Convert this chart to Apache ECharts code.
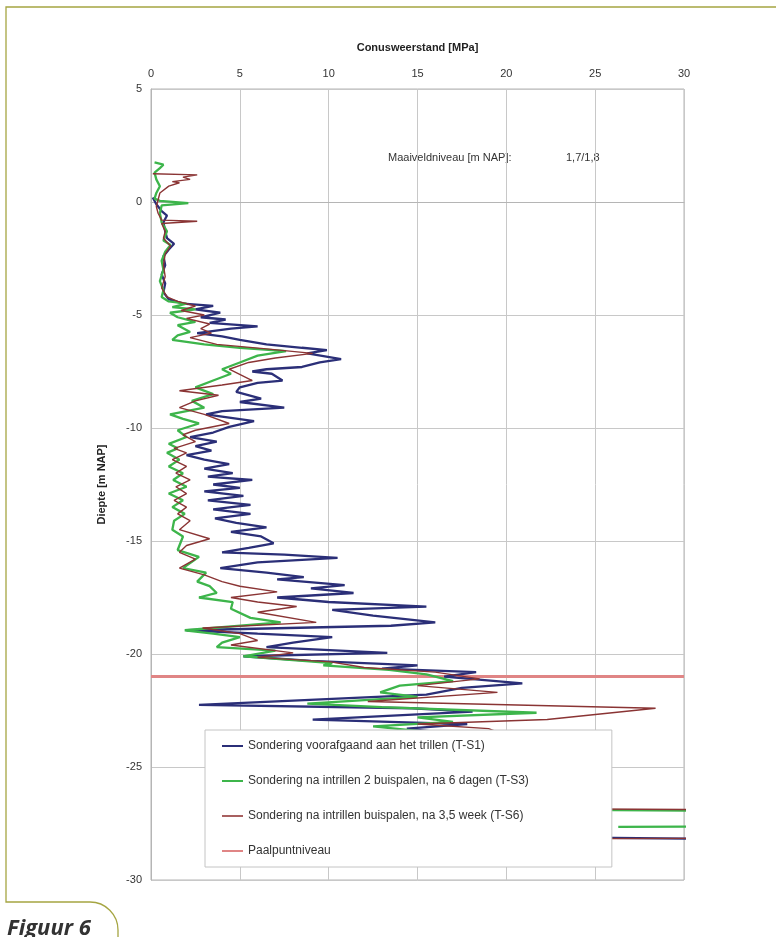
<!DOCTYPE html>
<html>
<head>
<meta charset="utf-8">
<script src="https://cdn.jsdelivr.net/npm/echarts@6/dist/echarts.min.js"></script>
<style>
html,body{margin:0;padding:0;background:#fff;}
#c{width:776px;height:937px;}
</style>
</head>
<body>
<div id="c"></div>
<script>
// ---- data: [conusweerstand MPa, diepte m NAP] ----
const xTicks = [0, 5, 10, 15, 20, 25, 30];
const yTicks = [5, 0, -5, -10, -15, -20, -25, -30];
const seriesNames = [
  'Sondering voorafgaand aan het trillen (T-S1)',
  'Sondering na intrillen 2 buispalen, na 6 dagen (T-S3)',
  'Sondering na intrillen buispalen, na 3,5 week (T-S6)',
  'Paalpuntniveau'
];
const ts1 = [
  [0.1,0.2],[0.3,-0.1],[0.6,-0.4],[0.9,-0.6],[0.7,-0.9],[0.8,-1.3],[0.9,-1.6],[1.3,-1.85],[1.0,-2.1],[0.7,-2.4],
  [0.8,-2.8],[0.6,-3.2],[0.8,-3.6],[0.7,-4.0],[1.0,-4.3],[1.8,-4.5],[3.5,-4.6],[2.5,-4.75],[3.9,-4.9],[2.8,-5.1],
  [4.2,-5.2],[3.3,-5.35],[6.0,-5.5],[4.5,-5.6],[2.6,-5.8],[4.0,-5.95],[5.0,-6.1],[6.5,-6.3],[8.5,-6.45],[9.9,-6.55],
  [8.8,-6.7],[10.7,-6.95],[9.5,-7.1],[8.5,-7.3],[6.5,-7.4],[5.7,-7.5],[6.8,-7.6],[7.4,-7.9],[6.0,-8.0],[5.0,-8.2],
  [4.8,-8.4],[6.2,-8.7],[5.0,-8.85],[7.5,-9.1],[4.0,-9.25],[3.1,-9.4],[4.5,-9.55],[5.8,-9.7],[4.4,-9.95],[3.5,-10.2],
  [2.2,-10.4],[3.7,-10.6],[2.5,-10.8],[3.4,-11.0],[2.0,-11.2],[3.0,-11.4],[4.4,-11.6],[3.0,-11.8],[4.6,-12.0],[3.2,-12.15],
  [5.7,-12.3],[3.5,-12.5],[5.0,-12.65],[3.0,-12.8],[5.2,-13.0],[3.2,-13.2],[5.6,-13.4],[3.5,-13.6],[5.6,-13.8],[3.6,-14.0],
  [4.8,-14.2],[6.5,-14.4],[4.5,-14.6],[6.2,-14.8],[6.9,-15.1],[5.5,-15.3],[4.0,-15.5],[7.5,-15.6],[10.5,-15.75],[6.0,-15.95],
  [3.9,-16.2],[6.5,-16.4],[8.6,-16.6],[7.1,-16.7],[10.9,-16.95],[9.0,-17.1],[11.4,-17.3],[7.1,-17.5],[10.0,-17.7],[15.5,-17.9],
  [10.2,-18.05],[12.5,-18.3],[16.0,-18.6],[13.5,-18.75],[2.0,-18.95],[6.0,-19.1],[10.2,-19.25],[8.0,-19.5],[6.5,-19.7],[13.3,-19.95],
  [5.2,-20.1],[9.0,-20.3],[15.0,-20.5],[13.0,-20.65],[18.3,-20.8],[16.5,-21.0],[20.9,-21.3],[17.5,-21.5],[15.5,-21.8],[2.7,-22.25],
  [14.7,-22.4],[18.1,-22.55],[9.1,-22.9],[17.8,-23.1],[14.4,-23.3],[20,-23.8],[16,-24.5],[22,-25.2],[18,-26],[24,-26.5],
  [20,-27.5],[22,-28.1],[45,-28.3],[45,-28.4]
];
const ts3 = [
  [0.2,1.75],[0.7,1.65],[0.5,1.5],[0.2,1.3],[0.3,1.0],[0.5,0.7],[0.3,0.4],[0.2,0.15],[0.5,0.05],[2.1,-0.05],
  [0.6,-0.15],[0.5,-0.5],[0.6,-0.9],[0.9,-1.3],[0.7,-1.7],[1.1,-1.9],[0.8,-2.2],[0.6,-2.6],[0.7,-3.0],[0.5,-3.5],
  [0.7,-3.9],[0.6,-4.2],[1.0,-4.4],[2.0,-4.5],[1.2,-4.65],[2.5,-4.75],[1.07,-4.9],[1.5,-5.1],[2.5,-5.3],[1.5,-5.45],
  [2.2,-5.75],[1.5,-5.9],[1.2,-6.1],[3.0,-6.3],[5.0,-6.45],[7.6,-6.6],[6.0,-6.8],[5.0,-7.1],[4.0,-7.4],[4.5,-7.6],
  [3.5,-7.9],[2.5,-8.2],[3.5,-8.5],[2.3,-8.8],[3.0,-9.1],[1.07,-9.4],[1.8,-9.6],[2.7,-9.8],[1.5,-10.1],[2.0,-10.4],
  [1.0,-10.7],[1.5,-10.9],[0.9,-11.1],[1.6,-11.4],[1.0,-11.7],[1.8,-12.0],[1.25,-12.3],[2.0,-12.6],[1.0,-12.9],[1.8,-13.2],
  [1.2,-13.5],[1.9,-13.8],[1.3,-14.1],[1.2,-14.5],[1.8,-14.8],[1.5,-15.4],[2.7,-15.7],[1.8,-16.2],[3.1,-16.4],[2.6,-16.8],
  [3.3,-17.0],[3.7,-17.3],[2.7,-17.5],[4.6,-17.7],[4.5,-18.0],[5.6,-18.4],[7.3,-18.6],[1.9,-18.95],[3.5,-19.1],[5.0,-19.25],
  [4.0,-19.5],[3.7,-19.7],[7.0,-19.85],[5.2,-20.1],[10.2,-20.4],[9.7,-20.5],[13.4,-20.7],[15.5,-20.9],[17.0,-21.2],[14.0,-21.4],
  [12.9,-21.7],[15.0,-21.9],[8.8,-22.2],[13.0,-22.35],[21.7,-22.6],[15.0,-22.8],[17.0,-23.0],[12.5,-23.2],[20,-23.8],[18,-24.6],
  [23,-25.3],[20,-26.1],[24,-26.9],[45,-27.0],[45,-27.6],[26.3,-27.65]
];
const ts6 = [
  [0.1,1.25],[2.6,1.2],[1.8,1.1],[2.2,1.0],[1.2,0.9],[1.6,0.85],[1.0,0.7],[0.5,0.4],[0.4,0.1],[0.3,-0.2],
  [0.4,-0.5],[0.6,-0.8],[2.6,-0.85],[0.6,-0.95],[0.8,-1.3],[0.7,-1.6],[1.1,-1.95],[0.8,-2.3],[0.7,-2.8],[0.8,-3.3],
  [0.6,-3.8],[0.9,-4.2],[1.5,-4.4],[2.5,-4.6],[1.7,-4.8],[3.0,-5.0],[2.0,-5.15],[3.3,-5.4],[2.8,-5.6],[3.4,-5.8],
  [2.2,-6.0],[3.7,-6.3],[6.5,-6.5],[9.1,-6.7],[7.0,-6.9],[5.5,-7.1],[4.4,-7.4],[5.7,-7.9],[4.0,-8.1],[1.6,-8.35],
  [3.8,-8.55],[2.5,-8.8],[1.6,-9.1],[3.0,-9.4],[4.4,-9.8],[2.5,-10.1],[1.8,-10.3],[2.5,-10.6],[1.3,-10.9],[2.0,-11.1],
  [1.2,-11.4],[2.0,-11.7],[1.4,-12.0],[2.2,-12.3],[1.4,-12.6],[2.0,-12.9],[1.3,-13.2],[2.0,-13.5],[1.5,-13.8],[2.2,-14.1],
  [1.6,-14.5],[3.3,-14.9],[2.0,-15.2],[1.6,-15.5],[2.5,-15.8],[1.6,-16.2],[3.0,-16.5],[4.0,-16.8],[5.0,-17.0],[7.1,-17.25],
  [4.5,-17.5],[6.0,-17.7],[8.2,-17.9],[6.0,-18.15],[9.3,-18.6],[2.9,-18.85],[5.0,-19.1],[6.0,-19.4],[4.5,-19.6],[8.0,-19.95],
  [6.0,-20.15],[10.1,-20.35],[12.0,-20.6],[16.0,-20.8],[18.5,-21.1],[15.0,-21.4],[19.5,-21.7],[12.2,-22.1],[28.4,-22.4],[22.3,-22.9],
  [15.0,-23.1],[19.0,-23.3],[21,-23.9],[17,-24.7],[23,-25.4],[20,-26.2],[22,-26.85],[50,-26.95],[50,-28.1],[15,-28.2]
];
const paalpunt = [[0,-21],[30,-21]];
const maaiveldLabel = 'Maaiveldniveau [m NAP]:';
const maaiveldValue = '1,7/1,8';

const chart = echarts.init(document.getElementById('c'), null, {renderer:'canvas'});
const font = 'Liberation Sans';
chart.setOption({
  animation: false,
  backgroundColor: '#fff',
  grid: {left:151, top:89, width:533, height:791, show:true, borderColor:'#b5b5b5', borderWidth:1},
  xAxis: {
    type:'value', position:'top', min:0, max:30, interval:5,
    name:'Conusweerstand [MPa]', nameLocation:'middle', nameGap:36,
    nameTextStyle:{fontFamily:font, fontWeight:'bold', fontSize:11, color:'#222'},
    axisLine:{show:true, lineStyle:{color:'#b5b5b5'}},
    axisTick:{show:false},
    axisLabel:{margin:10, fontFamily:font, fontSize:11, color:'#333',
      formatter: v => (xTicks.indexOf(v) >= 0 ? String(v) : '')},
    splitLine:{show:true, lineStyle:{color:'#c8c8c8', width:1}}
  },
  yAxis: {
    type:'value', min:-30, max:5, interval:5,
    name:'Diepte [m NAP]', nameLocation:'middle', nameGap:44, nameRotate:90,
    nameTextStyle:{fontFamily:font, fontWeight:'bold', fontSize:11, color:'#222'},
    axisLine:{show:true, onZero:false, lineStyle:{color:'#b5b5b5'}},
    axisTick:{show:false},
    axisLabel:{margin:9, fontFamily:font, fontSize:11, color:'#333',
      formatter: v => (yTicks.indexOf(v) >= 0 ? String(v) : '')},
    splitLine:{show:true, lineStyle:{color:'#c8c8c8', width:1}}
  },
  legend: {
    orient:'vertical', left:205, top:730, z:20,
    padding:[9, 83, 9, 17], itemGap:21, itemWidth:21, itemHeight:2,
    backgroundColor:'#fff', borderColor:'#c4c4c4', borderWidth:1,
    icon:'rect',
    textStyle:{fontFamily:font, fontSize:12, color:'#333', lineHeight:14},
    data: seriesNames
  },
  graphic: [
    {type:'polyline', silent:true, z:0,
     shape:{points:[[776,7],[6,7],[6,902],[90,902]]},
     style:{fill:null, stroke:'#a5a542', lineWidth:1.3}},
    {type:'arc', silent:true, z:0,
     shape:{cx:90, cy:930, r:28, startAngle:-Math.PI/2, endAngle:0, clockwise:true},
     style:{fill:null, stroke:'#a5a542', lineWidth:1.3}},
    {type:'line', silent:true, z:0,
     shape:{x1:118, y1:930, x2:118, y2:945},
     style:{stroke:'#a5a542', lineWidth:1.3}},
    {type:'text', left:7, top:918, z:10,
     style:{text:'Figuur 6', font:'italic bold 22px "Open Sans"', fill:'#333'}},
    {type:'text', left:388, top:152,
     style:{text:maaiveldLabel, font:'11px "Liberation Sans"', fill:'#333'}},
    {type:'text', left:566, top:152,
     style:{text:maaiveldValue, font:'11px "Liberation Sans"', fill:'#333'}}
  ],
  series: [
    {name:seriesNames[3], type:'line', data:paalpunt, symbol:'none', z:1,
     lineStyle:{color:'#e08585', width:3}, itemStyle:{color:'#e08585'}},
    {name:seriesNames[0], type:'line', data:ts1, symbol:'none', z:2,
     lineStyle:{color:'#2b2f78', width:2.3}, itemStyle:{color:'#2b2f78'}},
    {name:seriesNames[1], type:'line', data:ts3, symbol:'none', z:3,
     lineStyle:{color:'#3db54b', width:2.3}, itemStyle:{color:'#3db54b'}},
    {name:seriesNames[2], type:'line', data:ts6, symbol:'none', z:4,
     lineStyle:{color:'#8a3434', width:1.4}, itemStyle:{color:'#a86060'}}
  ]
});
</script>
</body>
</html>
